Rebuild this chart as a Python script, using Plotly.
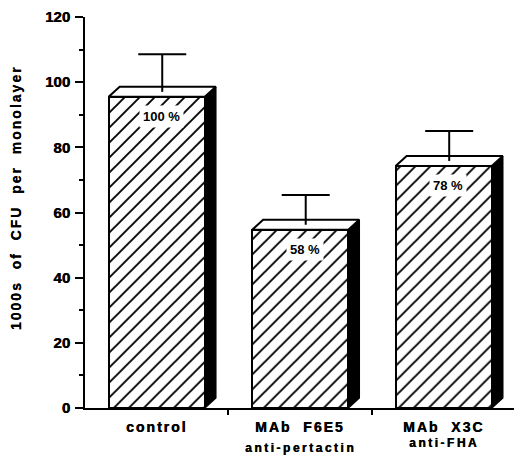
import plotly.graph_objects as go

# ---- data ----
categories = ["control", "MAb\u00a0 F6E5", "MAb\u00a0 X3C"]
sub_labels = ["", "anti-pertactin", "anti-FHA"]
cfu_values = [95.5, 54.7, 74.3]          # 1000s of CFU per monolayer
cfu_errors = [13.1, 10.7, 10.7]          # upper error
pct_labels = ["100 %", "58 %", "78 %"]
y_ticks = [0, 20, 40, 60, 80, 100, 120]
y_title = "1000s\u00a0 of\u00a0 CFU\u00a0 per\u00a0 monolayer"

# ---- layout constants ----
W, H = 514, 459
ML, MR, MT, MB = 85, 0, 17, 51
X_RANGE = [-0.5, 2.49]
Y_RANGE = [0, 120]
BAR_W = 0.67
px_per_x = (W - ML - MR) / (X_RANGE[1] - X_RANGE[0])
px_per_y = (H - MT - MB) / (Y_RANGE[1] - Y_RANGE[0])
DX = 11 / px_per_x      # 3-D depth offset (x, data units)
DY = 10 / px_per_y      # 3-D depth offset (y, data units)
CAP = 24 / px_per_x     # half width of error cap
FONT = "Liberation Sans, Arial, sans-serif"
HEAVY = "0.5px 0 0 black"   # makes the bold text look heavier
sub_shift = [0, -40, -35]

xs = list(range(len(categories)))

fig = go.Figure()

# front faces (hatched)
fig.add_trace(go.Bar(
    x=xs, y=cfu_values, width=BAR_W,
    marker=dict(color="white",
                line=dict(color="black", width=2),
                pattern=dict(shape="/", fgcolor="black", bgcolor="white",
                             fgopacity=1, size=10.6, solidity=0.18,
                             fillmode="overlay")),
    showlegend=False, hoverinfo="skip"))

# side faces (black) and top faces (white)
for x, v in zip(xs, cfu_values):
    xl, xr = x - BAR_W / 2, x + BAR_W / 2
    fig.add_trace(go.Scatter(
        x=[xr, xr + DX, xr + DX, xr, xr],
        y=[0, DY, v + DY, v, 0],
        fill="toself", fillcolor="black", mode="lines",
        line=dict(color="black", width=1.5),
        showlegend=False, hoverinfo="skip"))
    fig.add_trace(go.Scatter(
        x=[xl, xl + DX, xr + DX, xr, xl],
        y=[v, v + DY, v + DY, v, v],
        fill="toself", fillcolor="white", mode="lines",
        line=dict(color="black", width=2),
        showlegend=False, hoverinfo="skip"))

# error bars (stem from the middle of the top face, cap on top)
ex, ey = [], []
for x, v, e in zip(xs, cfu_values, cfu_errors):
    cx = x + DX / 2
    ex += [cx, cx, None, cx - CAP, cx + CAP, None]
    ey += [v + DY / 2, v + e, None, v + e, v + e, None]
fig.add_trace(go.Scatter(x=ex, y=ey, mode="lines",
                         line=dict(color="black", width=2),
                         showlegend=False, hoverinfo="skip"))

annotations = []
# percentage labels inside bars
for x, v, t in zip(xs, cfu_values, pct_labels):
    annotations.append(dict(
        x=x + 0.03, y=v, yshift=-20, xref="x", yref="y", text=t,
        showarrow=False, bgcolor="white", borderpad=3,
        font=dict(family=FONT, size=13, color="black", weight="bold"),
        xanchor="center", yanchor="middle"))

# category labels
for x, c, s, sh in zip(xs, categories, sub_labels, sub_shift):
    annotations.append(dict(
        x=x, y=0, yshift=-19, xref="x", yref="paper",
        text=f"<span style='letter-spacing:2px'>{c}</span>",
        showarrow=False, xanchor="center", yanchor="middle",
        font=dict(family=FONT, size=14, color="black", weight="bold",
                  shadow=HEAVY)))
    if s:
        annotations.append(dict(
            x=x, y=0, yshift=sh, xref="x", yref="paper",
            text=f"<span style='letter-spacing:2.5px'>{s}</span>",
            showarrow=False, xanchor="center", yanchor="middle",
            font=dict(family=FONT, size=12, color="black", weight="bold",
                      shadow=HEAVY)))

# y-axis title
annotations.append(dict(
    x=(16 - ML) / (W - ML - MR), y=(H - MB - 198) / (H - MT - MB),
    xref="paper", yref="paper", textangle=-90,
    text=f"<span style='letter-spacing:2px'>{y_title}</span>",
    showarrow=False, xanchor="center", yanchor="middle",
    font=dict(family=FONT, size=14, color="black", weight="bold",
              shadow="0 -0.5px 0 black")))

fig.update_layout(
    width=W, height=H,
    margin=dict(l=ML, r=MR, t=MT, b=MB, pad=0),
    paper_bgcolor="white", plot_bgcolor="white",
    showlegend=False, bargap=0,
    annotations=annotations,
    xaxis=dict(range=X_RANGE, showgrid=False, zeroline=False,
               showline=True, linecolor="black", linewidth=2,
               tickmode="array", tickvals=[0.5, 1.5], ticks="outside",
               ticklen=5, tickwidth=2, tickcolor="black",
               showticklabels=False, fixedrange=True),
    yaxis=dict(range=Y_RANGE, showgrid=False, zeroline=False,
               showline=True, linecolor="black", linewidth=2,
               tickmode="array", tickvals=y_ticks, ticks="outside",
               ticklen=8, tickwidth=2, tickcolor="black",
               tickfont=dict(family=FONT, size=15, color="black", weight="bold",
                             shadow=HEAVY),
               ticklabelstandoff=2,
               minor=dict(tickmode="linear", dtick=10, ticks="outside",
                          ticklen=4, tickwidth=1.5, tickcolor="black"),
               fixedrange=True),
)

fig.write_html("out.html")
